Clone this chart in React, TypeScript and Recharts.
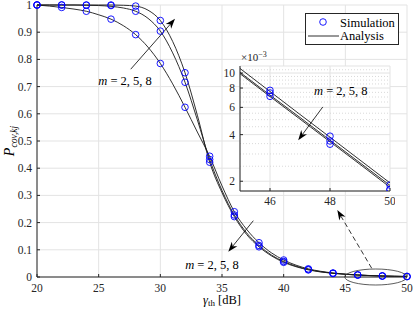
import React from 'react';
import {
  ComposedChart,
  Line,
  Scatter,
  XAxis,
  YAxis,
  CartesianGrid,
  ReferenceLine,
  ReferenceDot,
  Legend,
} from 'recharts';

// ---------- data ----------
const simX = [20, 22, 24, 26, 28, 30, 32, 34, 36, 38, 40, 42, 44, 46, 48, 50];
const simM2 = [1.0, 0.991, 0.977, 0.948, 0.891, 0.785, 0.624, 0.444, 0.24, 0.126, 0.0625, 0.03, 0.0148, 0.00773, 0.00391, 0.00189];
const simM5 = [1.0, 1.0, 0.999, 0.998, 0.977, 0.904, 0.716, 0.432, 0.228, 0.116, 0.057, 0.0275, 0.0135, 0.00743, 0.00364, 0.00177];
const simM8 = [1.0, 1.0, 1.0, 1.0, 0.996, 0.943, 0.751, 0.422, 0.222, 0.111, 0.054, 0.026, 0.0128, 0.00707, 0.00347, 0.00177];

const anaX = [20, 21, 22, 23, 24, 25, 26, 27, 28, 29, 30, 31, 32, 33, 34, 35, 36, 37, 38, 39, 40, 41, 42, 43, 44, 45, 46, 47, 48, 49, 50];
const anaM2 = [1.0, 0.996, 0.991, 0.985, 0.977, 0.964, 0.948, 0.924, 0.891, 0.845, 0.785, 0.71, 0.624, 0.533, 0.443, 0.335, 0.24, 0.175, 0.126, 0.089, 0.0625, 0.0435, 0.03, 0.021, 0.0148, 0.0107, 0.0076, 0.0054, 0.00385, 0.00274, 0.00195];
const anaM5 = [1.0, 1.0, 1.0, 1.0, 0.999, 0.998, 0.995, 0.989, 0.977, 0.951, 0.904, 0.824, 0.716, 0.578, 0.432, 0.318, 0.228, 0.162, 0.116, 0.081, 0.057, 0.0398, 0.0276, 0.0194, 0.0138, 0.0101, 0.0072, 0.00516, 0.00368, 0.00263, 0.00188];
const anaM8 = [1.0, 1.0, 1.0, 1.0, 1.0, 1.0, 1.0, 0.999, 0.996, 0.981, 0.943, 0.866, 0.751, 0.595, 0.422, 0.31, 0.222, 0.156, 0.111, 0.078, 0.054, 0.0378, 0.0263, 0.0186, 0.0133, 0.0099, 0.00705, 0.00504, 0.0036, 0.00257, 0.00183];

const xTicks = [20, 25, 30, 35, 40, 45, 50];
const yTicks = [0, 0.1, 0.2, 0.3, 0.4, 0.5, 0.6, 0.7, 0.8, 0.9, 1];
const insetXTicks = [46, 48, 50];
const insetYTicks = [0.002, 0.004, 0.006, 0.008, 0.01];
const insetYLabels = ['2', '4', '6', '8', '10'];
const insetMinorY = [0.0025, 0.003, 0.0035, 0.0045, 0.005, 0.0055, 0.0065, 0.007, 0.0075, 0.0085, 0.009, 0.0095, 0.0105];
const legendLabels = ['Simulation', 'Analysis'];
const annotationValues = '= 2, 5, 8';

// ---------- helpers ----------
const FONT = '"Liberation Serif", "Times New Roman", serif';
const AXIS = '#262626';
const GRID = '#e3e3e3';
const LINE = '#1a1a1a';
const BLUE = '#0000ff';

const pts = (xs: number[], ys: number[], minX = -Infinity) =>
  xs.map((x, i) => ({ x, y: ys[i] })).filter((p) => p.x >= minX);

const circleShape = (props: any) => (
  <circle cx={props.cx} cy={props.cy} r={3.3} fill="none" stroke={BLUE} strokeWidth={0.9} />
);

const makeArrow = (dashed: boolean) => (props: any) => {
  const { x1, y1, x2, y2 } = props;
  const dx = x2 - x1;
  const dy = y2 - y1;
  const len = Math.hypot(dx, dy) || 1;
  const ux = dx / len;
  const uy = dy / len;
  const L = 10;
  const W = 3.6;
  const notch = 7;
  const bx = x2 - ux * L;
  const by = y2 - uy * L;
  const nx = -uy;
  const ny = ux;
  const points = [
    `${x2},${y2}`,
    `${bx + nx * W},${by + ny * W}`,
    `${x2 - ux * notch},${y2 - uy * notch}`,
    `${bx - nx * W},${by - ny * W}`,
  ].join(' ');
  return (
    <g>
      <line
        x1={x1}
        y1={y1}
        x2={x2 - ux * notch}
        y2={y2 - uy * notch}
        stroke="#000"
        strokeWidth={0.8}
        strokeDasharray={dashed ? '5 3' : undefined}
      />
      <polygon points={points} fill="#000" stroke="none" />
    </g>
  );
};

const mathLabel = (props: any) => (
  <text
    x={props.cx}
    y={props.cy}
    textAnchor="middle"
    dominantBaseline="central"
    fontFamily={FONT}
    fontSize={12.5}
    fill="#000"
  >
    <tspan fontStyle="italic">m</tspan>
    <tspan> {annotationValues}</tspan>
  </text>
);

const ellipseShape = (props: any) => (
  <ellipse cx={props.cx} cy={props.cy} rx={31} ry={8} fill="none" stroke="#333" strokeWidth={0.8} />
);

const tickStyle = { fontFamily: FONT, fontSize: 11.5, fill: AXIS };

const LegendBox = () => (
  <div
    style={{
      width: 94,
      height: 32,
      border: `1px solid ${AXIS}`,
      background: '#fff',
      boxSizing: 'border-box',
      position: 'relative',
    }}
  >
    <svg width={92} height={30} style={{ position: 'absolute', left: 0, top: 0 }}>
      <circle cx={17} cy={8} r={3.3} fill="none" stroke={BLUE} strokeWidth={0.9} />
      <line x1={2} x2={33} y1={22} y2={22} stroke={LINE} strokeWidth={0.9} />
      <text x={34} y={12.5} fontFamily={FONT} fontSize={12.5} fill="#000">
        {legendLabels[0]}
      </text>
      <text x={34} y={26} fontFamily={FONT} fontSize={12.5} fill="#000">
        {legendLabels[1]}
      </text>
    </svg>
  </div>
);

const YLabel = (props: any) => {
  const vb = props.viewBox || {};
  const cx = vb.x + 14;
  const cy = vb.y + vb.height / 2;
  return (
    <text
      x={cx}
      y={cy}
      transform={`rotate(-90, ${cx}, ${cy})`}
      textAnchor="middle"
      fontFamily={FONT}
      fill="#000"
    >
      <tspan fontStyle="italic" fontSize={14}>P</tspan>
      <tspan fontStyle="italic" fontSize={9.5} dy={3}>cov,kj</tspan>
    </text>
  );
};

const XLabel = (props: any) => {
  const vb = props.viewBox || {};
  const cx = vb.x + vb.width / 2;
  const cy = vb.y + 27;
  return (
    <text x={cx} y={cy} textAnchor="middle" fontFamily={FONT} fill="#000" fontSize={12.5}>
      <tspan fontStyle="italic">γ</tspan>
      <tspan fontSize={9} dy={2}>th</tspan>
      <tspan dy={-2}> [dB]</tspan>
    </text>
  );
};

const InsetExp = (props: any) => {
  const vb = props.viewBox || {};
  const x = vb.x + vb.width + 1;
  const y = vb.y - 5;
  return (
    <text x={x} y={y} fontFamily={FONT} fontSize={11} fill={AXIS}>
      <tspan>×10</tspan>
      <tspan fontSize={8} dy={-4}>−3</tspan>
    </text>
  );
};

const Inset = () => (
  <div style={{ position: 'absolute', left: 205, top: 42 }}>
    <ComposedChart width={190} height={170} margin={{ top: 24, right: 5, left: 0, bottom: 0 }}>
      <CartesianGrid stroke={GRID} fill="#fff" horizontal={true} vertical={true} />
      {insetMinorY.map((v) => (
        <ReferenceLine key={v} y={v} stroke="#cfcfcf" strokeDasharray="1 2" strokeWidth={0.8} />
      ))}
      <XAxis
        dataKey="x"
        type="number"
        domain={[45, 50]}
        ticks={insetXTicks}
        interval={0}
        allowDataOverflow
        height={21}
        tickSize={-3}
        tickMargin={9}
        stroke={AXIS}
        tick={tickStyle}
      />
      <XAxis xAxisId="top" orientation="top" dataKey="x" type="number" domain={[45, 50]} ticks={insetXTicks} interval={0} height={0} tickSize={-3} tick={false} stroke={AXIS} />
      <YAxis
        dataKey="y"
        type="number"
        scale="log"
        domain={[0.00173, 0.0111]}
        allowDataOverflow
        ticks={insetYTicks}
        interval={0}
        tickFormatter={(v: number) => insetYLabels[insetYTicks.indexOf(v)] ?? ''}
        width={35}
        tickSize={-3}
        tickMargin={8}
        stroke={AXIS}
        tick={tickStyle}
        label={<InsetExp />}
      />
      <YAxis yAxisId="right" orientation="right" dataKey="y" type="number" scale="log" domain={[0.00173, 0.0111]} allowDataOverflow ticks={insetYTicks} interval={0} width={0} tickSize={-3} tick={false} stroke={AXIS} />
      <Line data={pts(anaX, anaM2, 45)} dataKey="y" type="linear" stroke={LINE} strokeWidth={0.9} dot={false} isAnimationActive={false} />
      <Line data={pts(anaX, anaM5, 45)} dataKey="y" type="linear" stroke={LINE} strokeWidth={0.9} dot={false} isAnimationActive={false} />
      <Line data={pts(anaX, anaM8, 45)} dataKey="y" type="linear" stroke={LINE} strokeWidth={0.9} dot={false} isAnimationActive={false} />
      <Scatter data={pts(simX, simM2, 45)} dataKey="y" shape={circleShape} isAnimationActive={false} />
      <Scatter data={pts(simX, simM5, 45)} dataKey="y" shape={circleShape} isAnimationActive={false} />
      <Scatter data={pts(simX, simM8, 45)} dataKey="y" shape={circleShape} isAnimationActive={false} />
      <ReferenceLine segment={[{ x: 47.76, y: 0.00604 }, { x: 46.94, y: 0.00368 }]} shape={makeArrow(false)} ifOverflow="visible" />
      <ReferenceDot x={48.36} y={0.00768} r={0} shape={mathLabel} ifOverflow="visible" />
    </ComposedChart>
  </div>
);

export default function App() {
  return (
    <div style={{ position: 'absolute', left: 0, top: 0, width: 415, height: 312, background: '#fff' }}>
      <ComposedChart width={415} height={312} margin={{ top: 5, right: 8, left: 0, bottom: 0 }}>
        <CartesianGrid stroke={GRID} />
        <XAxis
          dataKey="x"
          type="number"
          domain={[20, 50]}
          ticks={xTicks}
          interval={0}
          height={35}
          tickSize={-3}
          tickMargin={10}
          stroke={AXIS}
          tick={tickStyle}
          label={<XLabel />}
        />
        <XAxis xAxisId="top" orientation="top" dataKey="x" type="number" domain={[20, 50]} ticks={xTicks} interval={0} height={0} tickSize={-3} tick={false} stroke={AXIS} />
        <YAxis
          dataKey="y"
          type="number"
          domain={[0, 1]}
          ticks={yTicks}
          interval={0}
          width={37}
          tickSize={-3}
          tickMargin={8}
          stroke={AXIS}
          tick={tickStyle}
          label={<YLabel />}
        />
        <YAxis yAxisId="right" orientation="right" dataKey="y" type="number" domain={[0, 1]} ticks={yTicks} interval={0} width={0} tickSize={-3} tick={false} stroke={AXIS} />
        <Line data={pts(anaX, anaM2)} dataKey="y" type="monotone" stroke={LINE} strokeWidth={0.9} dot={false} isAnimationActive={false} />
        <Line data={pts(anaX, anaM5)} dataKey="y" type="monotone" stroke={LINE} strokeWidth={0.9} dot={false} isAnimationActive={false} />
        <Line data={pts(anaX, anaM8)} dataKey="y" type="monotone" stroke={LINE} strokeWidth={0.9} dot={false} isAnimationActive={false} />
        <Scatter data={pts(simX, simM2)} dataKey="y" shape={circleShape} isAnimationActive={false} />
        <Scatter data={pts(simX, simM5)} dataKey="y" shape={circleShape} isAnimationActive={false} />
        <Scatter data={pts(simX, simM8)} dataKey="y" shape={circleShape} isAnimationActive={false} />
        <ReferenceLine segment={[{ x: 27.6, y: 0.764 }, { x: 31.19, y: 0.949 }]} shape={makeArrow(false)} ifOverflow="visible" />
        <ReferenceLine segment={[{ x: 37.54, y: 0.207 }, { x: 35.51, y: 0.093 }]} shape={makeArrow(false)} ifOverflow="visible" />
        <ReferenceLine segment={[{ x: 47.14, y: 0.032 }, { x: 44.35, y: 0.246 }]} shape={makeArrow(true)} ifOverflow="visible" />
        <ReferenceDot x={27.14} y={0.719} r={0} shape={mathLabel} ifOverflow="visible" />
        <ReferenceDot x={34.19} y={0.044} r={0} shape={mathLabel} ifOverflow="visible" />
        <ReferenceDot x={47.47} y={0} r={0} shape={ellipseShape} ifOverflow="visible" />
        <Legend
          layout="horizontal"
          verticalAlign="middle"
          align="center"
          content={<LegendBox />}
          wrapperStyle={{ left: 305, top: 13, width: 94, height: 32 }}
        />
      </ComposedChart>
      <Inset />
    </div>
  );
}
